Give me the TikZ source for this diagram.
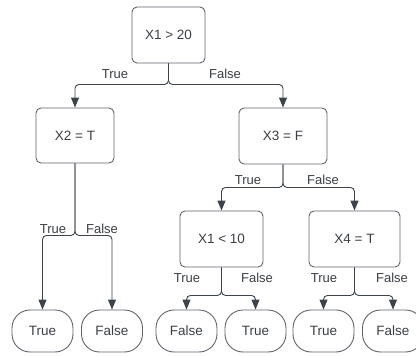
\documentclass[tikz,border=0pt]{standalone}
\usepackage{fontspec}
\setmainfont{Liberation Sans}
\usetikzlibrary{arrows.meta}

\definecolor{linegray}{HTML}{3D434B}
\definecolor{boxgray}{HTML}{5F646B}
\definecolor{textgray}{HTML}{3A3F45}

\tikzset{
    test/.style={draw=boxgray, line width=0.9pt, rounded corners=5pt, text=textgray,
        font=\fontsize{13.5}{15}\selectfont, inner sep=0pt},
    leaf/.style={draw=boxgray, line width=0.9pt, rounded corners=18pt, text=textgray,
        font=\fontsize{13.5}{15}\selectfont, inner sep=0pt,
        minimum width=61pt, minimum height=42pt},
    branch/.style={draw=linegray, line width=0.9pt, rounded corners=4pt,
        -{Triangle[length=10pt,width=8pt]}},
    lbl/.style={text=textgray, font=\fontsize{13}{15}\selectfont, inner sep=0pt}
}

\begin{document}
\begin{tikzpicture}[x=1pt,y=-1pt]
        \useasboundingbox (0,0) rectangle (416,356);
        % Draw test nodes
        \node[test, minimum width=73pt, minimum height=56pt] (root) at (168.5,35) {X1 > 20};
        \node[test, minimum width=78pt, minimum height=55pt] (xtwo) at (75,135.5) {X2 = T};
        \node[test, minimum width=88pt, minimum height=56pt] (xthree) at (283,136) {X3 = F};
        \node[test, minimum width=83pt, minimum height=56pt] (xonelt) at (221.5,239) {X1 < 10};
        \node[test, minimum width=91pt, minimum height=56pt] (xfour) at (354.5,239) {X4 = T};
        % Draw leaves
        \node[leaf] (leafa) at (42.5,331) {True};
        \node[leaf] (leafb) at (112,331) {False};
        \node[leaf] (leafc) at (186.5,331) {False};
        \node[leaf] (leafd) at (255.5,331) {True};
        \node[leaf] (leafe) at (323.5,331) {True};
        \node[leaf] (leaff) at (393,331) {False};
        % Draw branches
        \draw[branch] (root.south) -- ++(0,21) -| (xtwo.north);
        \draw[branch] (root.south) -- ++(0,21) -| (xthree.north);
        \draw[branch] (xtwo.south) -- ++(0,72) -| (leafa.north);
        \draw[branch] (xtwo.south) -- ++(0,72) -| (leafb.north);
        \draw[branch] (xthree.south) -- ++(0,23) -| (xonelt.north);
        \draw[branch] (xthree.south) -- ++(0,23) -| (xfour.north);
        \draw[branch] (xonelt.south) -- ++(0,28) -| (leafc.north);
        \draw[branch] (xonelt.south) -- ++(0,28) -| (leafd.north);
        \draw[branch] (xfour.south) -- ++(0,28) -| (leafe.north);
        \draw[branch] (xfour.south) -- ++(0,28) -| (leaff.north);
        % Draw branch labels
        \node[lbl] (rt) at (115,74) {True};
        \node[lbl] (rf) at (225,74) {False};
        \node[lbl] (tt) at (53,229) {True};
        \node[lbl] (tf) at (102,229) {False};
        \node[lbl] (ht) at (248,180) {True};
        \node[lbl] (hf) at (323,180) {False};
        \node[lbl] (lt) at (187,278) {True};
        \node[lbl] (lf) at (257,278) {False};
        \node[lbl] (ft) at (324,278) {True};
        \node[lbl] (ff) at (392,278) {False};
    \end{tikzpicture}
\end{document}
